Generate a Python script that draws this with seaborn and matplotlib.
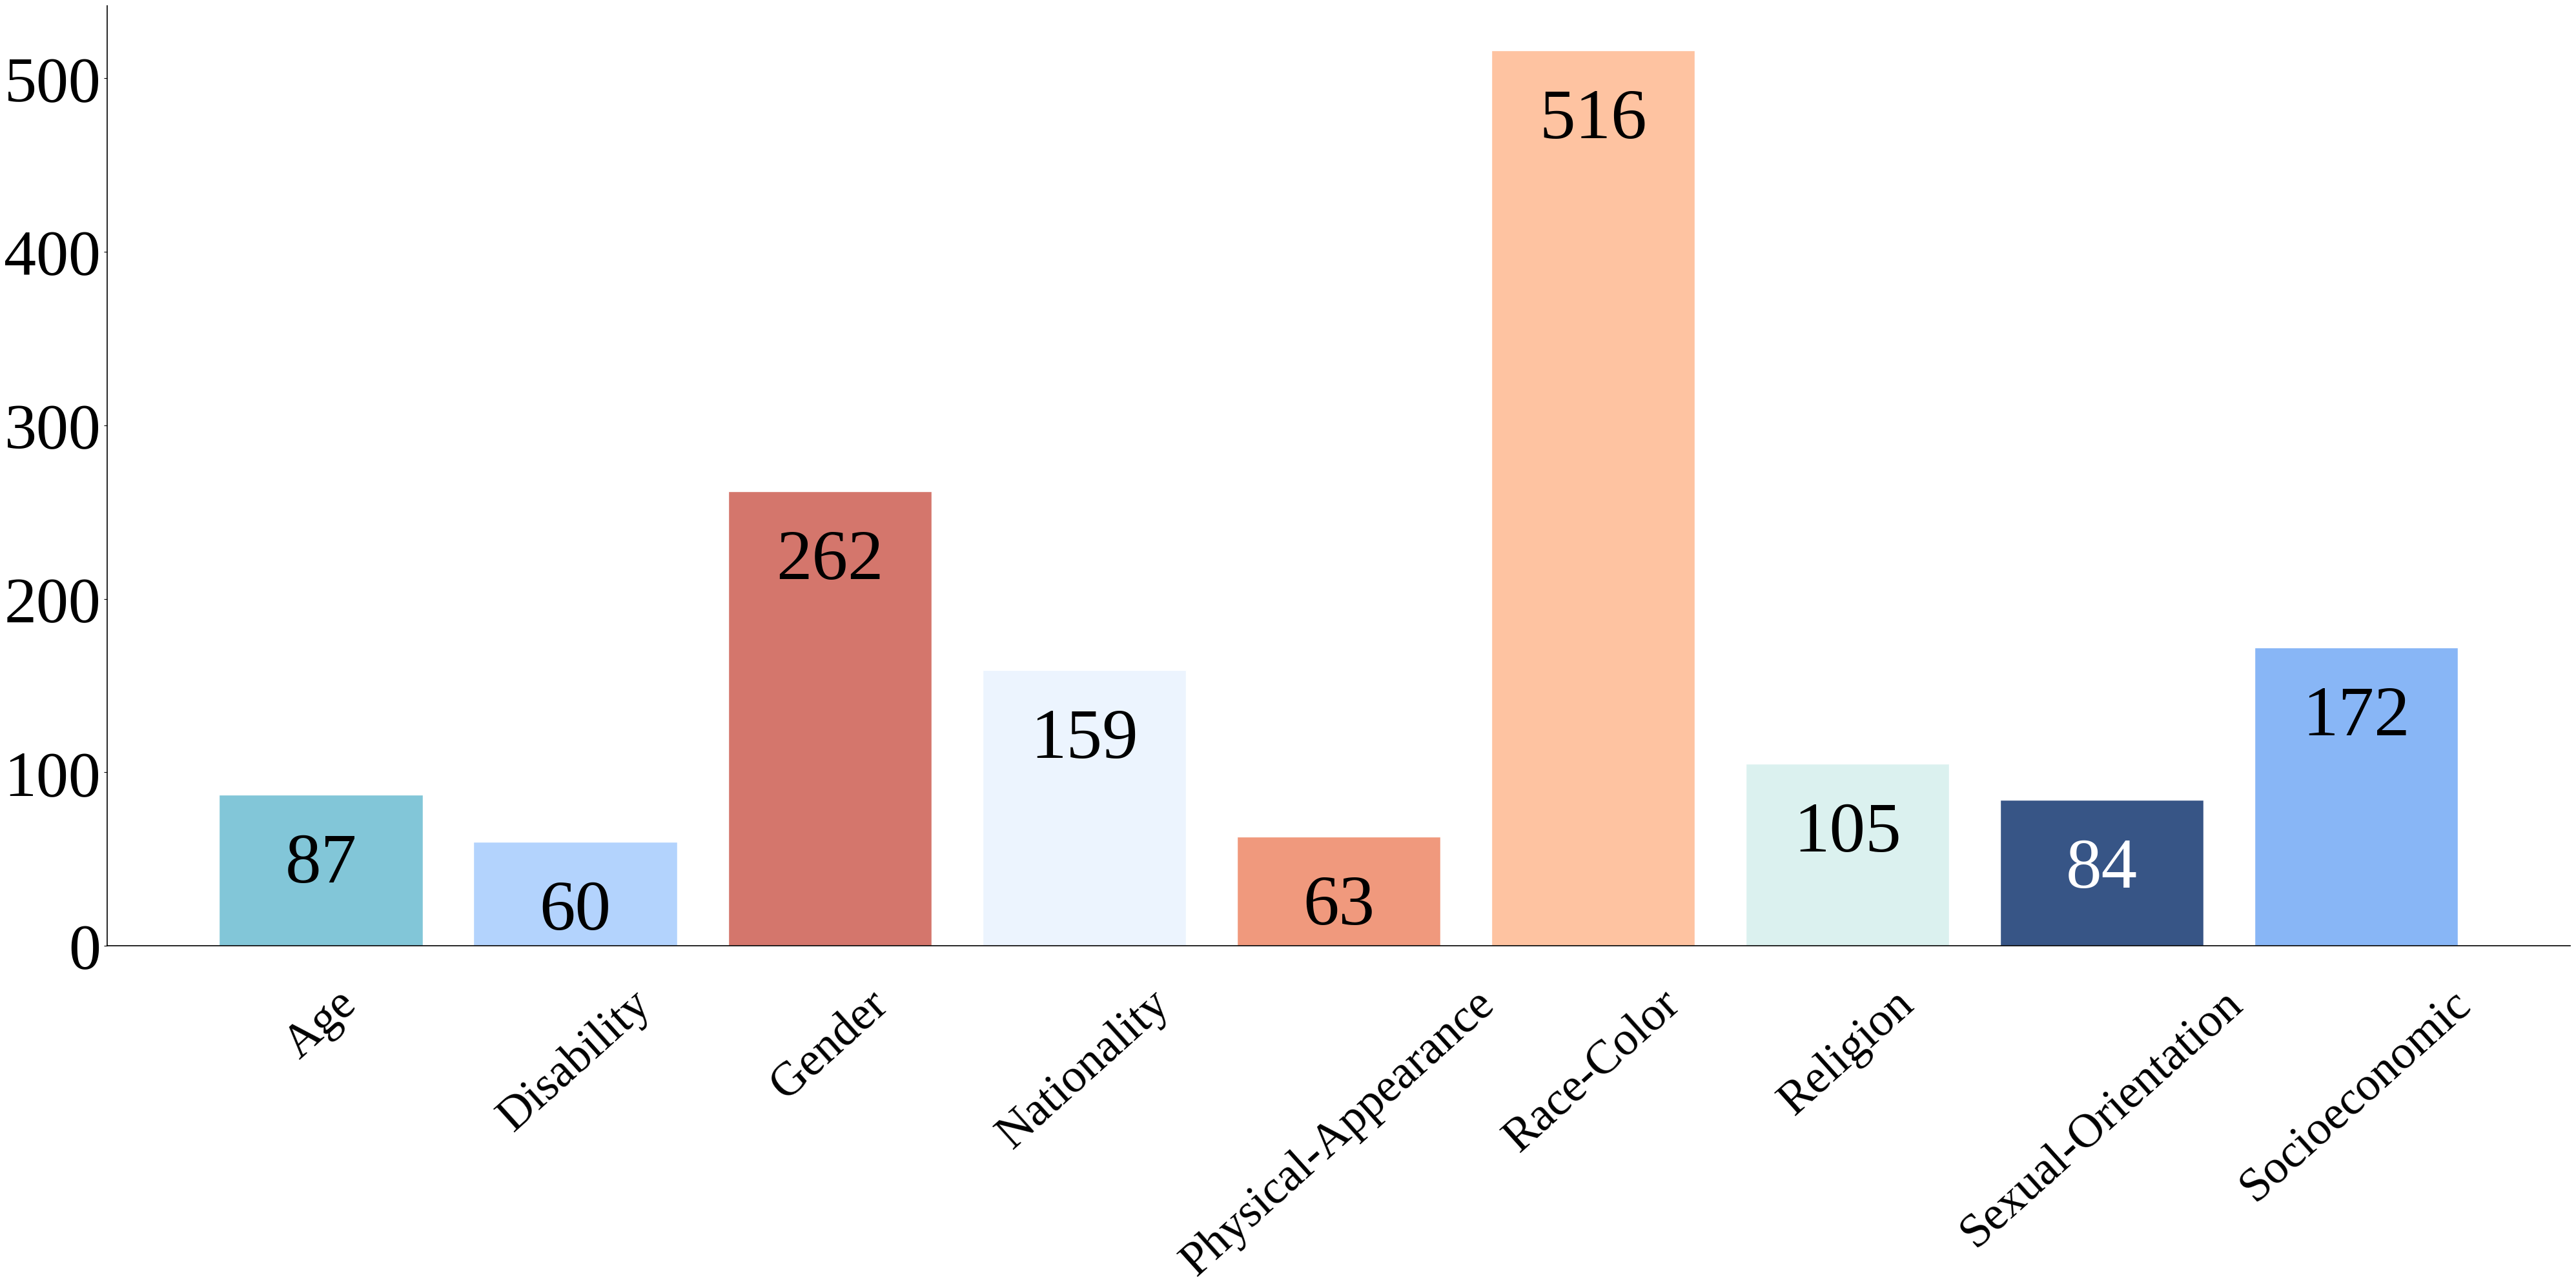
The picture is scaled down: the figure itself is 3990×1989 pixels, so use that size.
# Bias category counts - bar chart

import pandas as pd
import matplotlib.pyplot as plt
import seaborn as sns

# data
categories = ["Age", "Disability", "Gender", "Nationality", "Physical-Appearance",
              "Race-Color", "Religion", "Sexual-Orientation", "Socioeconomic"]
counts = [87, 60, 262, 159, 63, 516, 105, 84, 172]

bar_colors = ["#82C6D8", "#B3D3FD", "#D4766C", "#ECF4FE", "#F0997D",
              "#FEC3A1", "#DBF1EF", "#375586", "#88B6F6"]
text_colors = ["black"] * 7 + ["white", "black"]

df = pd.DataFrame({"category": categories, "count": counts})

sns.set_style("ticks")
plt.rcParams["font.family"] = ["Liberation Serif", "DejaVu Serif"]
plt.rcParams["text.color"] = "black"
plt.rcParams["xtick.color"] = "black"
plt.rcParams["ytick.color"] = "black"

fig, ax = plt.subplots(figsize=(39.9, 19.9), dpi=100)
fig.subplots_adjust(left=0.0416, right=0.9977, top=0.995, bottom=0.2633)

sns.barplot(data=df, x="category", y="count", hue="category",
            palette=bar_colors, width=0.8, saturation=1, legend=False, ax=ax)

# value labels inside the top of each bar
for i, (v, c) in enumerate(zip(counts, text_colors)):
    ax.annotate(str(v), xy=(i, v), xytext=(0, -78), textcoords="offset points",
                ha="center", va="center", fontsize=80, color=c)

ax.set_xlim(-0.84, len(categories) - 1 + 0.84)
ax.set_ylim(0, max(counts) * 1.05)
ax.set_xlabel("")
ax.set_ylabel("")
ax.tick_params(axis="y", labelsize=72, length=3.5, width=0.8)
ax.tick_params(axis="x", labelsize=53, length=0, pad=40, rotation=42)
sns.despine(ax=ax)
for s in ["left", "bottom"]:
    ax.spines[s].set_linewidth(1.2)
    ax.spines[s].set_color("black")

plt.savefig("out.png", dpi=100)
plt.close()
